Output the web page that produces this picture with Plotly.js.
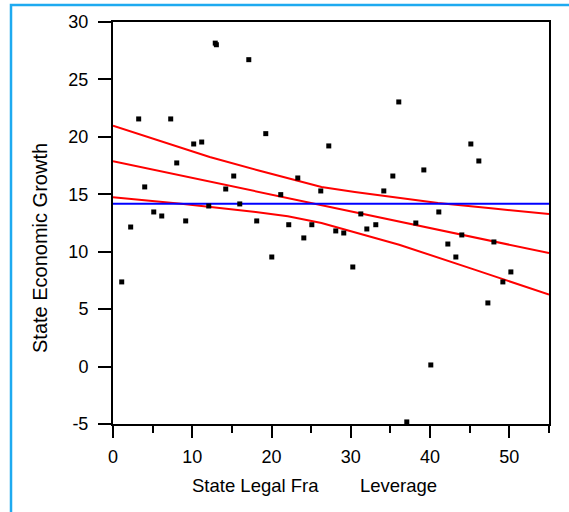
<!DOCTYPE html>
<html>
<head>
<meta charset="utf-8">
<script src="https://cdn.plot.ly/plotly-3.0.1.min.js"></script>
<style>
  html, body { margin: 0; padding: 0; background: #fff; }
  #chart { width: 569px; height: 512px; }
</style>
</head>
<body>
<div id="chart"></div>
<script>
// Scatter points: State Legal Framework / Leverage (x) vs State Economic Growth (y)
const leverage = [1.10, 2.23, 3.24, 4.00, 5.14, 6.15, 7.28, 8.04, 9.17, 10.18,
  11.19, 12.08, 12.90, 13.04, 14.22, 15.23, 15.99, 17.13, 18.13, 19.27,
  20.03, 21.16, 22.17, 23.31, 24.07, 25.08, 26.21, 27.22, 28.10, 29.11,
  30.25, 31.26, 32.02, 33.15, 34.16, 35.30, 36.05, 37.06, 38.20, 39.21,
  40.09, 41.10, 42.24, 43.25, 44.00, 45.14, 46.15, 47.29, 48.05, 49.18, 50.19];
const growth = [7.37, 12.15, 21.56, 15.64, 13.46, 13.11, 21.56, 17.73, 12.68, 19.38,
  19.55, 13.98, 28.16, 28.02, 15.46, 16.59, 14.16, 26.72, 12.68, 20.28,
  9.54, 14.97, 12.35, 16.42, 11.20, 12.35, 15.29, 19.21, 11.81, 11.63,
  8.67, 13.29, 11.98, 12.35, 15.29, 16.59, 23.04, -4.82, 12.50, 17.12,
  0.14, 13.46, 10.67, 9.54, 11.46, 19.38, 17.90, 5.54, 10.85, 7.37, 8.24];

// Mean line
const meanX = [0, 55];
const meanY = [14.18, 14.18];

// Linear fit line
const fitX = [0, 55];
const fitY = [17.88, 9.88];

// Confidence curves
const upperX = [0, 5.9, 12.2, 18.5, 22.05, 26.3, 30.5, 36.1, 41, 48, 55];
const upperY = [20.97, 19.67, 18.25, 17.05, 16.42, 15.64, 15.2, 14.68, 14.25, 13.76, 13.28];
const lowerX = [0, 8.9, 18.0, 22.05, 26.3, 30.5, 36.1, 45.6, 55];
const lowerY = [14.75, 14.16, 13.45, 13.08, 12.5, 11.69, 10.61, 8.44, 6.26];

const xTicks = [0, 10, 20, 30, 40, 50];
const yTicks = [-5, 0, 5, 10, 15, 20, 25, 30];

const FONT = 'Liberation Sans, Arial, Helvetica, sans-serif';

const traces = [
  {x: upperX, y: upperY, mode: 'lines', line: {color: '#ff0000', width: 2}, hoverinfo: 'skip'},
  {x: fitX, y: fitY, mode: 'lines', line: {color: '#ff0000', width: 2}, hoverinfo: 'skip'},
  {x: lowerX, y: lowerY, mode: 'lines', line: {color: '#ff0000', width: 2}, hoverinfo: 'skip'},
  {x: meanX, y: meanY, mode: 'lines', line: {color: '#0000ff', width: 2}, hoverinfo: 'skip'},
  {x: leverage, y: growth, mode: 'markers',
   marker: {symbol: 'square', size: 5, color: '#000000', line: {width: 0}}}
];

const axisCommon = {
  showgrid: false, zeroline: false,
  showline: true, linecolor: '#000', linewidth: 2, mirror: true,
  ticks: 'outside', ticklen: 12, tickwidth: 2, tickcolor: '#000',
  tickfont: {family: FONT, size: 18, color: '#000'},
  tickmode: 'array'
};

const layout = {
  width: 569, height: 512,
  margin: {l: 113, r: 20, t: 22, b: 88},
  paper_bgcolor: '#fff', plot_bgcolor: '#fff',
  showlegend: false,
  font: {family: FONT, color: '#000'},
  xaxis: Object.assign({}, axisCommon, {
    range: [0, 55], tickvals: xTicks, ticktext: xTicks.map(String),
    ticklabelstandoff: 3,
    minor: {tickmode: 'linear', tick0: 0, dtick: 5, ticks: 'outside', ticklen: 7, tickwidth: 2, tickcolor: '#000', showgrid: false}
  }),
  yaxis: Object.assign({}, axisCommon, {
    range: [-5, 30], tickvals: yTicks, ticktext: yTicks.map(String),
    ticklen: 13, ticklabelstandoff: 6
  }),
  annotations: [
    {text: 'State Economic Growth', textangle: -90, xref: 'paper', yref: 'paper',
     x: (40 - 113) / 436, y: (424 - 248) / 402, xanchor: 'center', yanchor: 'middle',
     showarrow: false, font: {family: FONT, size: 20, color: '#000'}},
    {text: 'State Legal Fra', xref: 'paper', yref: 'paper',
     x: (190 - 113) / 436, y: (424 - 485) / 402, xanchor: 'left', yanchor: 'middle',
     showarrow: false, font: {family: FONT, size: 18.5, color: '#000'}},
    {text: 'Leverage', xref: 'paper', yref: 'paper',
     x: (358 - 113) / 436, y: (424 - 485) / 402, xanchor: 'left', yanchor: 'middle',
     showarrow: false, font: {family: FONT, size: 18.5, color: '#000'}}
  ],
  shapes: [
    {type: 'rect', xref: 'paper', yref: 'paper', layer: 'below',
     x0: (11 - 113) / 436, x1: (590 - 113) / 436,
     y0: (424 - 530) / 402, y1: (424 - 5) / 402,
     line: {color: '#1eaaf0', width: 2.5}, fillcolor: 'rgba(0,0,0,0)'}
  ]
};

Plotly.newPlot('chart', traces, layout, {staticPlot: true, displayModeBar: false});
</script>
</body>
</html>
